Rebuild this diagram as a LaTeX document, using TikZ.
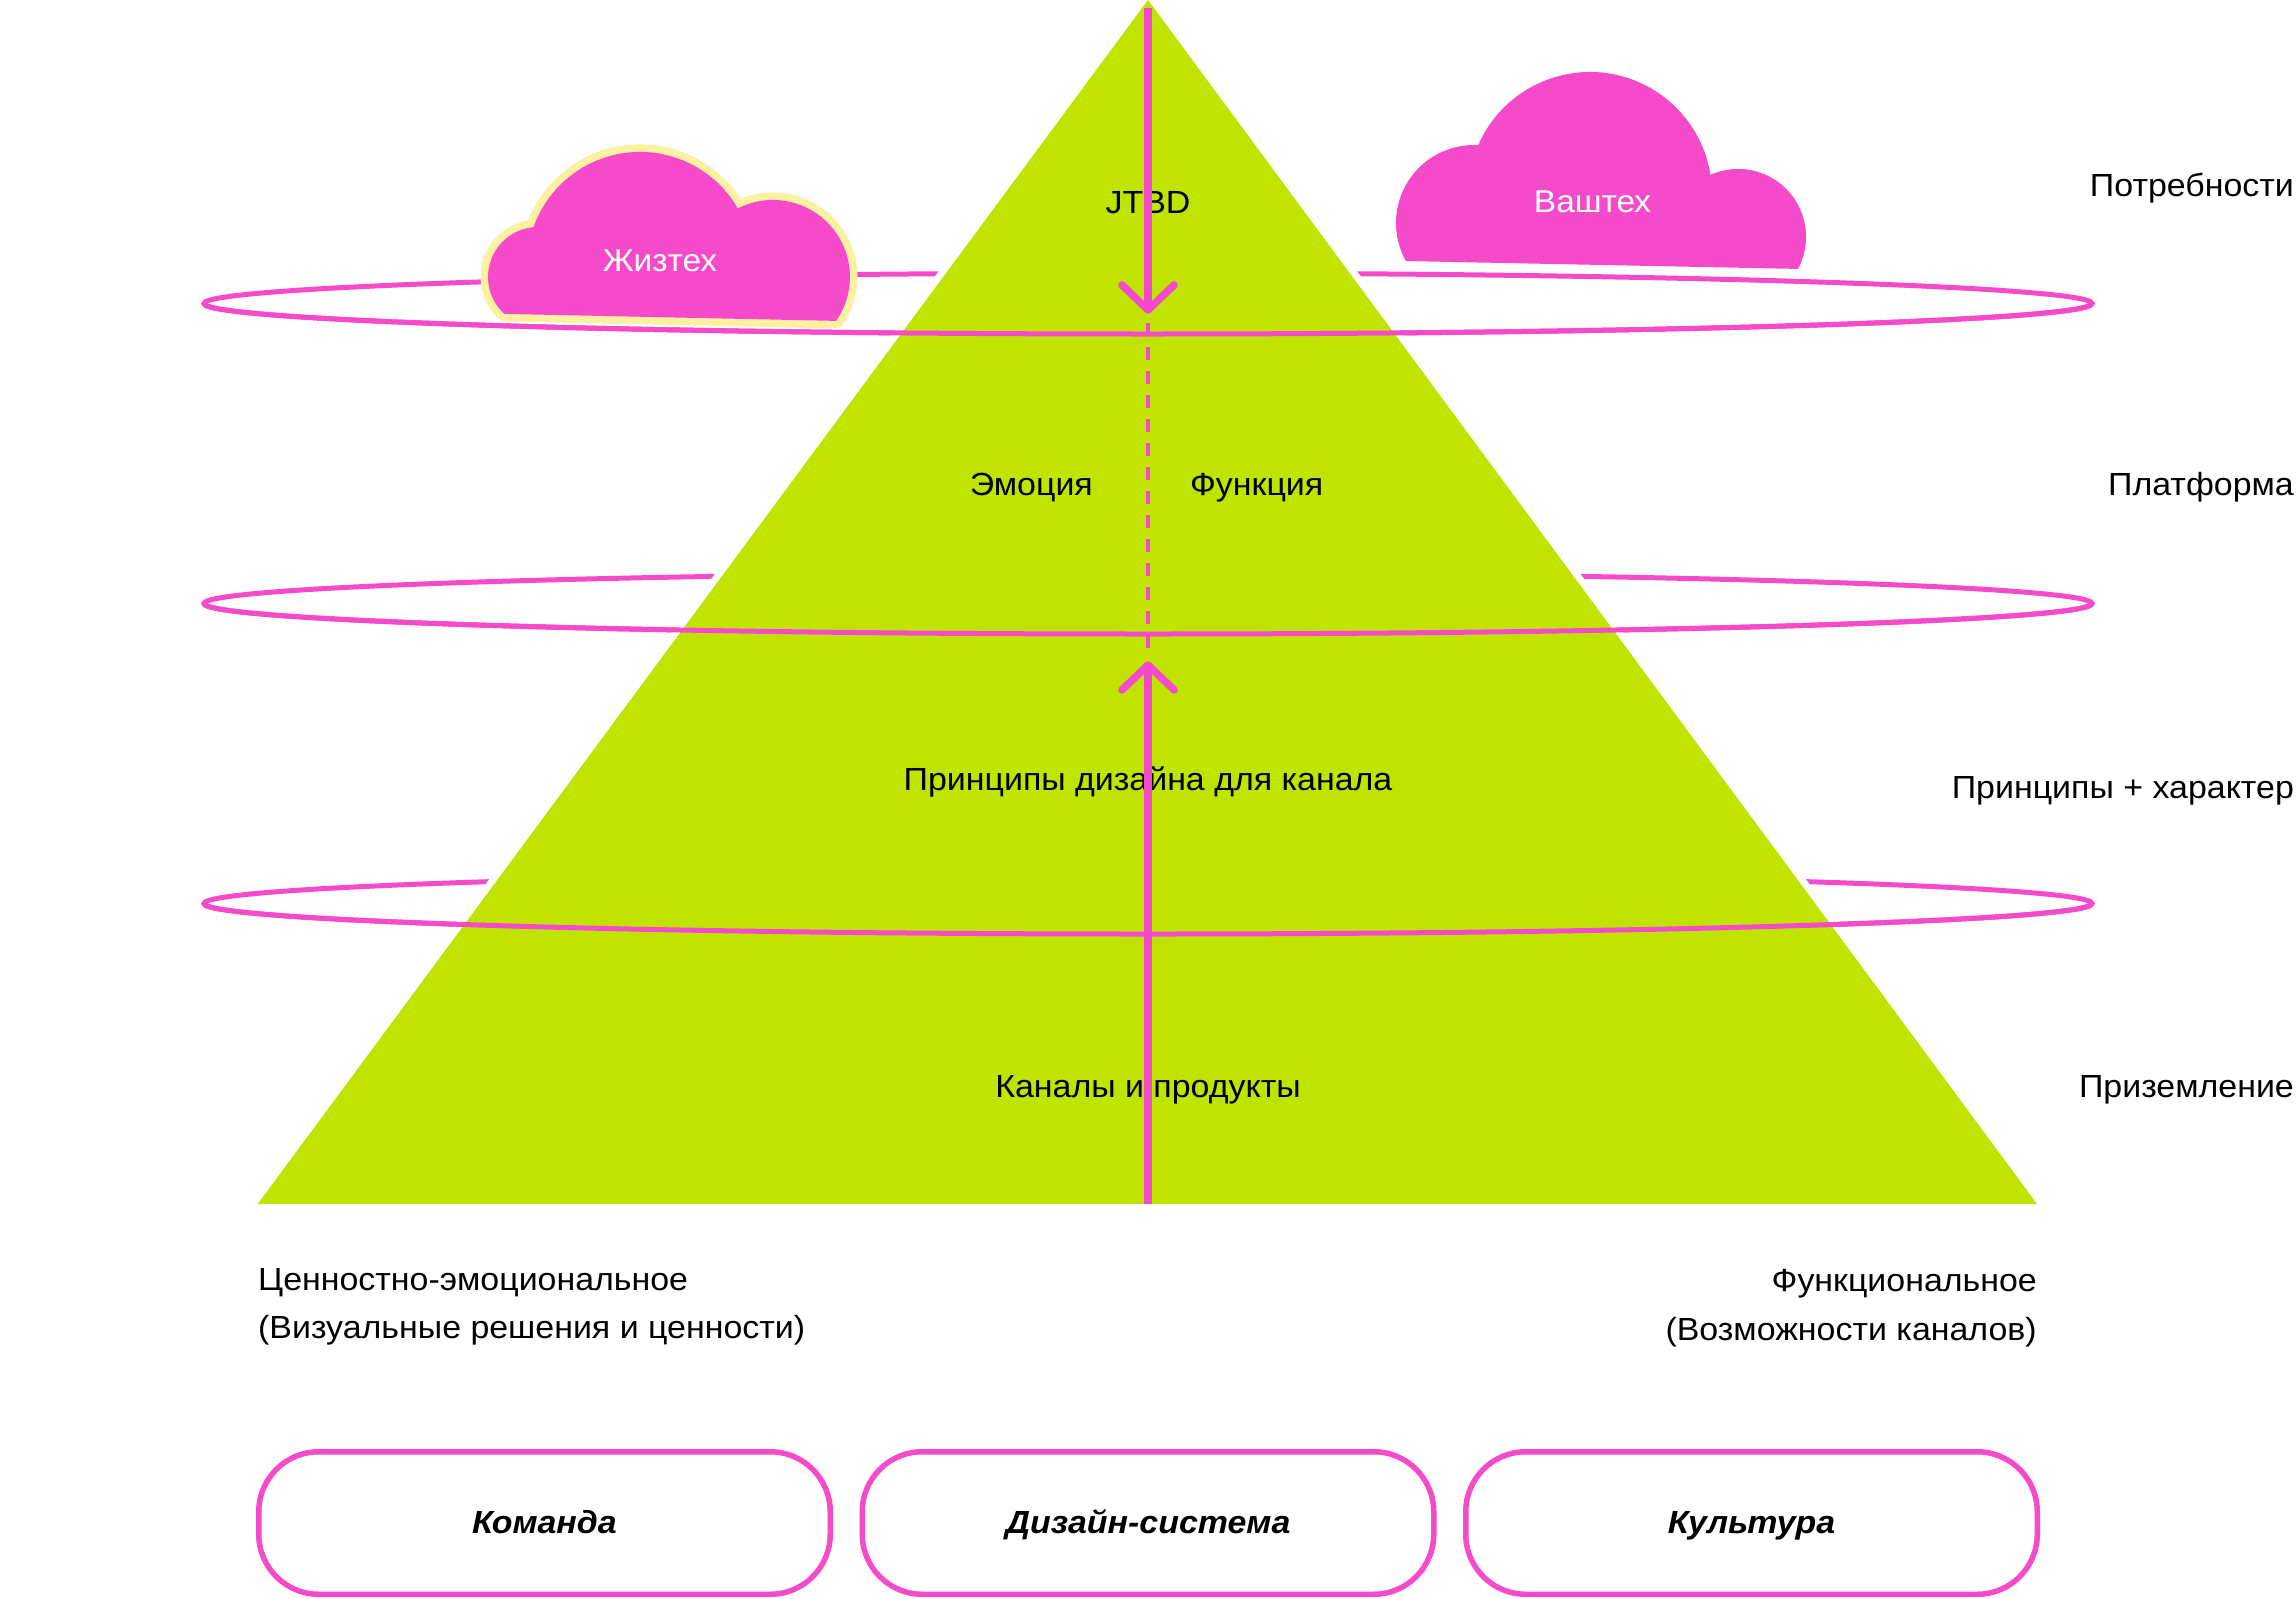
\documentclass[tikz,border=0pt]{standalone}
\usepackage{fontspec}
\setmainfont{Liberation Sans}[FakeStretch=1.06]
\definecolor{pk}{HTML}{F54BCB}
\definecolor{gr}{HTML}{C0E300}
\definecolor{yl}{HTML}{FBF1A1}
\newcommand\cloudpathA{(504.3,313.9) arc[start angle=132.4, end angle=264.8, radius=50] arc[start angle=199.5, end angle=330, radius=113] arc[start angle=242.9, end angle=394.8, radius=77] -- cycle}
\newcommand\cloudpathB{(1405.9,261.05) arc[start angle=150.8, end angle=273.1, radius=78] arc[start angle=203.6, end angle=350.95, radius=122] arc[start angle=246.1, end angle=388.07, radius=68] -- cycle}
\begin{document}
\begin{tikzpicture}[x=1pt,y=-1pt,
  lbl/.style={inner sep=0pt, font=\fontsize{32}{38}\selectfont, text=black},
  cloudtxt/.style={inner sep=0pt, font=\fontsize{31.5}{37}\selectfont, text=white},
  ring/.style={draw=pk, line width=5pt},
  axisline/.style={draw=pk, line width=7.5pt},
  chev/.style={draw=pk, line width=7.5pt, line cap=round, line join=round},
  dashaxis/.style={draw=pk, line width=3.5pt, dash pattern=on 13pt off 11pt},
  pill/.style={draw=pk, line width=5.5pt, rounded corners=60pt, minimum width=571.5pt, minimum height=142.5pt, inner sep=0pt, text height=23pt, text depth=3pt, font=\fontsize{32}{38}\selectfont\bfseries\itshape}
]
\useasboundingbox (0,0) rectangle (2296,1598);
\fill[white] (0,0) rectangle (2296,1598);

% ring centres
\coordinate (r1) at (1148,303.5);
\coordinate (r2) at (1148,603.5);
\coordinate (r3) at (1148,903.5);
\coordinate (r1e) at (2092,303.5);
\coordinate (r2e) at (2092,603.5);
\coordinate (r3e) at (2092,903.5);

% full rings (back parts)
\draw[ring] (r1) ellipse[x radius=944, y radius=30.5];
\draw[ring] (r2) ellipse[x radius=944, y radius=30.5];
\draw[ring] (r3) ellipse[x radius=944, y radius=30.5];

% pyramid
\coordinate (apex) at (1148,0);
\coordinate (bl) at (257.7,1204);
\coordinate (br) at (2037,1204);
\draw[white, line width=14pt] (apex) -- (bl) -- (br) -- cycle;
\fill[gr] (apex) -- (bl) -- (br) -- cycle;

% clouds
\draw[yl, line width=15pt, line join=round] \cloudpathA;
\fill[pk] \cloudpathA;
\fill[pk] \cloudpathB;
\node[cloudtxt, anchor=base] (zhiz) at (660,271.7) {Жизтех};
\node[cloudtxt, anchor=base] (vash) at (1592.5,212.3) {Ваштех};

% front halves of rings
\draw[ring] (r1e) arc[start angle=0, end angle=180, x radius=944, y radius=30.5];
\draw[ring] (r2e) arc[start angle=0, end angle=180, x radius=944, y radius=30.5];
\draw[ring] (r3e) arc[start angle=0, end angle=180, x radius=944, y radius=30.5];

% texts on pyramid
\node[lbl, anchor=base] (jtbd) at (1148,213.5) {JTBD};
\node[lbl, anchor=base east] (emo) at (1093,495.5) {Эмоция};
\node[lbl, anchor=base west] (func) at (1190,495.5) {Функция};
\node[lbl, anchor=base] (princ) at (1148,790) {Принципы дизайна для канала};
\node[lbl, anchor=base] (chan) at (1148,1097) {Каналы и продукты};

% axis with arrows
\coordinate (atop) at (1148,8);
\coordinate (tipd) at (1148,310);
\coordinate (dl) at (1122,285);
\coordinate (dr) at (1174,285);
\coordinate (dstart) at (1148,323);
\coordinate (dend) at (1148,656);
\coordinate (tipu) at (1148,665);
\coordinate (ul) at (1122,690);
\coordinate (ur) at (1174,690);
\coordinate (abot) at (1148,1204);
\draw[axisline] (atop) -- (tipd);
\draw[chev] (dl) -- (tipd) -- (dr);
\draw[dashaxis] (dstart) -- (dend);
\draw[axisline] (abot) -- (tipu);
\draw[chev] (ul) -- (tipu) -- (ur);

% right labels
\node[lbl, anchor=base east] (l1) at (2294,196.7) {Потребности};
\node[lbl, anchor=base east] (l2) at (2294,495) {Платформа};
\node[lbl, anchor=base east] (l3) at (2294,798) {Принципы + характер};
\node[lbl, anchor=base east] (l4) at (2294,1097) {Приземление};

% bottom texts
\node[lbl, anchor=base west] (valA) at (258,1290) {Ценностно-эмоциональное};
\node[lbl, anchor=base west] (valB) at (258,1338) {(Визуальные решения и ценности)};
\node[lbl, anchor=base east] (funA) at (2037,1291) {Функциональное};
\node[lbl, anchor=base east] (funB) at (2037,1340) {(Возможности каналов)};

% boxes
\node[pill] (team) at (544.5,1523) {Команда};
\node[pill] (ds) at (1148,1523) {Дизайн-система};
\node[pill] (cult) at (1751.5,1523) {Культура};
\end{tikzpicture}
\end{document}
